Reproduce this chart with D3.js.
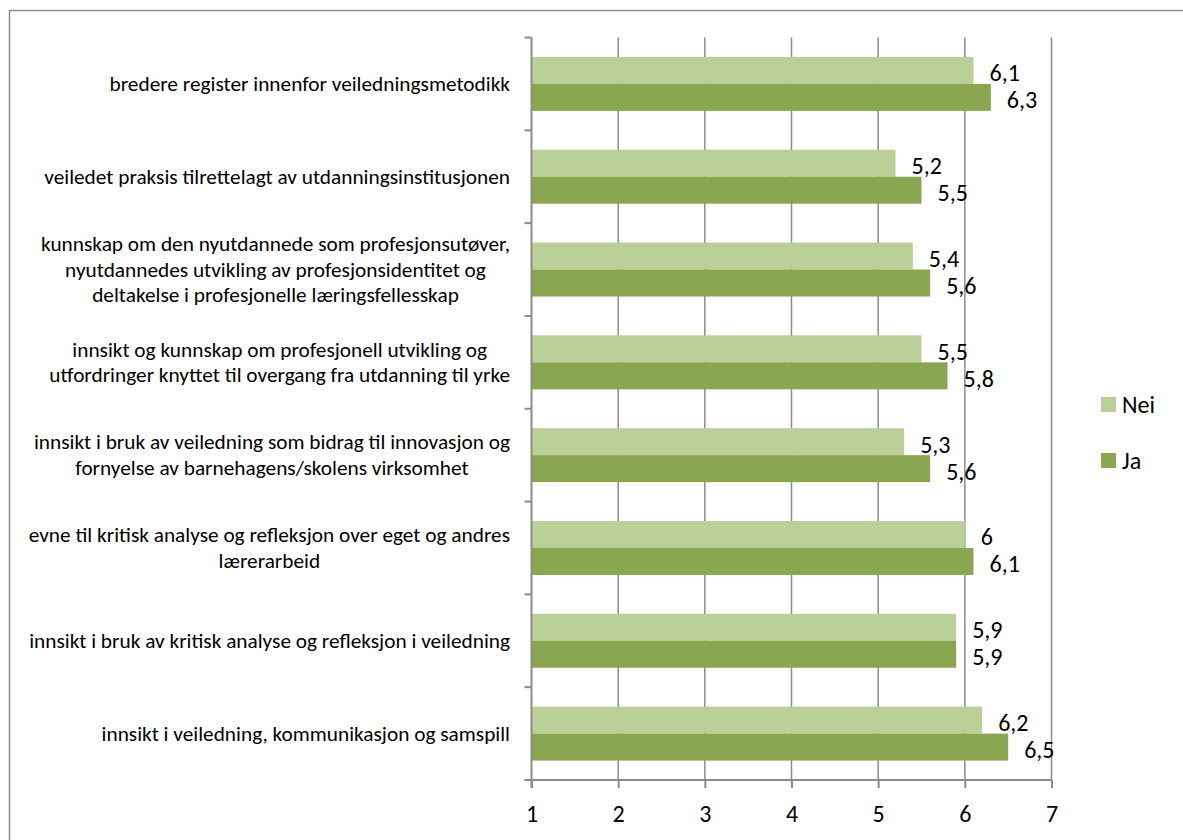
<!DOCTYPE html>
<html>
<head>
<meta charset="utf-8">
<script src="https://cdn.jsdelivr.net/npm/d3@7"></script>
<style>
  html, body { margin: 0; padding: 0; background: #fff; }
  svg { display: block; }
  text { font-family: Carlito, Lato, "Liberation Sans", sans-serif; fill: #000; }
</style>
</head>
<body>
<svg id="chart" width="1183" height="840"></svg>
<script>
// Category labels (line breaks as in the chart), top to bottom
const categories = [
  "bredere register innenfor veiledningsmetodikk",
  "veiledet praksis tilrettelagt av utdanningsinstitusjonen",
  "kunnskap om den nyutdannede som profesjonsutøver,\nnyutdannedes utvikling av profesjonsidentitet og\ndeltakelse i profesjonelle læringsfellesskap",
  "innsikt og kunnskap om profesjonell utvikling og\nutfordringer knyttet til overgang fra utdanning til yrke",
  "innsikt i bruk av veiledning som bidrag til innovasjon og\nfornyelse av barnehagens/skolens virksomhet",
  "evne til kritisk analyse og refleksjon over eget og andres\nlærerarbeid",
  "innsikt i bruk av kritisk analyse og refleksjon i veiledning",
  "innsikt i veiledning, kommunikasjon og samspill"
];
const seriesNames = ["Nei", "Ja"];
const neiValues = [6.1, 5.2, 5.4, 5.5, 5.3, 6.0, 5.9, 6.2];
const jaValues  = [6.3, 5.5, 5.6, 5.8, 5.6, 6.1, 5.9, 6.5];
const xTicks = [1, 2, 3, 4, 5, 6, 7];
const colors = { Nei: "#bbcf98", Ja: "#8aa650" };

const svg = d3.select("#chart");

// outer chart frame
svg.append("rect")
  .attr("x", 9.5).attr("y", 10.5)
  .attr("width", 1200).attr("height", 900)
  .attr("fill", "none").attr("stroke", "#8c8c8c").attr("stroke-width", 1.5);

const plot = { left: 531.5, right: 1051.5, top: 37.5, bottom: 780 };

const x = d3.scaleLinear().domain([1, 7]).range([plot.left, plot.right]);
const y = d3.scaleBand().domain(d3.range(categories.length))
  .range([plot.top, plot.bottom]).paddingInner(0).paddingOuter(0);
const inner = d3.scaleBand().domain(seriesNames)
  .range([0, y.bandwidth()]).paddingOuter(0.72).paddingInner(0);

// vertical gridlines
svg.append("g").selectAll("line")
  .data(xTicks.slice(1))
  .join("line")
  .attr("x1", d => x(d)).attr("x2", d => x(d))
  .attr("y1", plot.top).attr("y2", plot.bottom)
  .attr("stroke", "#8c8c8c").attr("stroke-width", 1.5);

// bars
const rows = categories.map((c, i) => ({ i, Nei: neiValues[i], Ja: jaValues[i] }));
const fmt = v => d3.format("~g")(v).replace(".", ",");

const grp = svg.append("g").selectAll("g")
  .data(rows).join("g")
  .attr("transform", d => `translate(0,${y(d.i)})`);

grp.selectAll("rect")
  .data(d => seriesNames.map(s => ({ s, v: d[s] })))
  .join("rect")
  .attr("x", x(1))
  .attr("y", d => inner(d.s))
  .attr("width", d => x(d.v) - x(1))
  .attr("height", inner.bandwidth())
  .attr("fill", d => colors[d.s]);

grp.selectAll("text.val")
  .data(d => seriesNames.map(s => ({ s, v: d[s] })))
  .join("text")
  .attr("class", "val")
  .attr("x", d => x(d.v) + 16)
  .attr("y", d => inner(d.s) + inner.bandwidth() / 2 + 2.5)
  .attr("dominant-baseline", "central")
  .attr("font-size", 24)
  .text(d => fmt(d.v));

// y axis line and ticks
const yAxis = svg.append("g");
yAxis.append("line")
  .attr("x1", plot.left).attr("x2", plot.left)
  .attr("y1", plot.top).attr("y2", plot.bottom + 8)
  .attr("stroke", "#8c8c8c").attr("stroke-width", 2);
yAxis.selectAll("line.tick")
  .data(d3.range(categories.length + 1))
  .join("line").attr("class", "tick")
  .attr("x1", plot.left - 7).attr("x2", plot.left)
  .attr("y1", d => plot.top + d * y.step()).attr("y2", d => plot.top + d * y.step())
  .attr("stroke", "#8c8c8c").attr("stroke-width", 2);

// x axis
const xAxis = svg.append("g").attr("transform", `translate(0,${plot.bottom})`)
  .call(d3.axisBottom(x).tickValues(xTicks).tickFormat(d3.format("d"))
    .tickSize(8).tickSizeOuter(0).tickPadding(17));
xAxis.select(".domain").attr("stroke", "#8c8c8c").attr("stroke-width", 2)
  .attr("d", `M${plot.left - 7},0H${plot.right}`);
xAxis.selectAll(".tick line").attr("stroke", "#8c8c8c").attr("stroke-width", 2);
xAxis.selectAll(".tick text")
  .attr("font-size", 24).attr("font-family", "Carlito, Lato, sans-serif").attr("fill", "#000");

// category labels: lines centred, block right-aligned to the axis
const labelRight = 510;
const lineH = 25.5;
const labels = svg.append("g").selectAll("text.cat")
  .data(categories).join("text")
  .attr("class", "cat")
  .attr("font-size", 21.3)
  .attr("text-anchor", "middle");
labels.each(function (d, i) {
  const t = d3.select(this);
  const lines = d.split("\n");
  lines.forEach((ln, k) => {
    t.append("tspan").attr("x", 0)
      .attr("y", y(i) + y.bandwidth() / 2 + (k - (lines.length - 1) / 2) * lineH)
      .attr("dominant-baseline", "central")
      .text(ln);
  });
  let maxW = 0;
  t.selectAll("tspan").each(function () { maxW = Math.max(maxW, this.getComputedTextLength()); });
  t.selectAll("tspan").attr("x", labelRight - maxW / 2);
});

// legend
const legend = svg.append("g").selectAll("g")
  .data(seriesNames).join("g")
  .attr("transform", (d, i) => `translate(1101,${397 + i * 56})`);
legend.append("rect").attr("width", 15).attr("height", 15).attr("fill", d => colors[d]);
legend.append("text").attr("x", 21).attr("y", 7).attr("dominant-baseline", "central")
  .attr("font-size", 24).text(d => d);
</script>
</body>
</html>
